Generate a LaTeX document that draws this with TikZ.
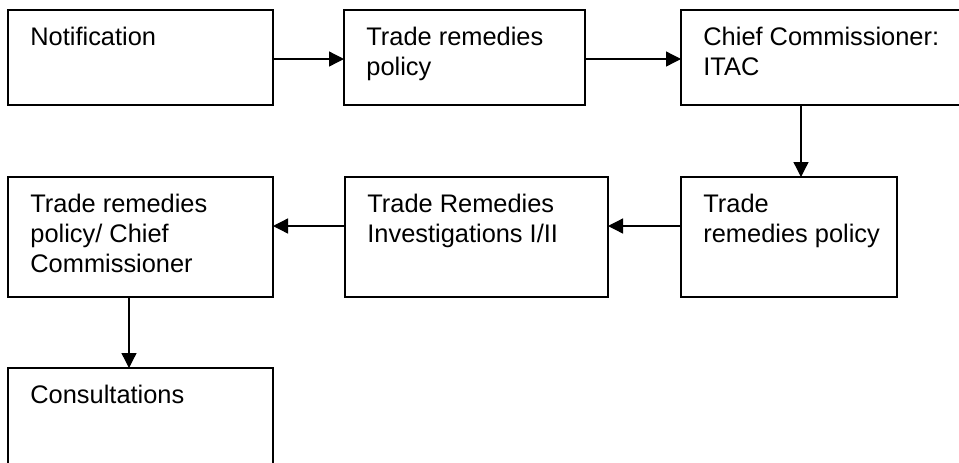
\documentclass[tikz,border=0pt]{standalone}
\usepackage{fontspec}
\setmainfont{Liberation Sans}
\usetikzlibrary{arrows.meta,positioning}

\begin{document}
\begin{tikzpicture}[x=0.5pt,y=-0.5pt,node distance=36pt,
  box/.style={draw,line width=0.65pt,inner sep=0pt,outer sep=0pt,anchor=north west},
  row1/.style={box,minimum height=47.5pt},
  row2/.style={box,minimum height=60pt},
  txt/.style={anchor=north west,align=left,inner sep=0pt,xshift=11pt,yshift=-8.2pt,
    font=\fontsize{12.7pt}{15pt}\selectfont},
  flow/.style={-{Triangle[length=7.5pt,width=7.5pt]},line width=0.65pt}]
\useasboundingbox (0,0) rectangle (959,462);
\clip (0,0) rectangle (959,462);
% top row
\node[row1,minimum width=132.5pt,label={[txt]north west:Notification}] (notif) at (8,10) {};
\node[row1,minimum width=120.5pt,right=35.5pt of notif.north east,anchor=north west,
  label={[txt]north west:{Trade remedies\\policy}}] (policyA) {};
\node[row1,minimum width=160pt,right=48pt of policyA.north east,anchor=north west,
  label={[txt]north west:{Chief Commissioner:\\ITAC}}] (chief) {};
% second row, right to left
\node[row2,minimum width=108pt,below=36pt of chief.south west,anchor=north west,
  label={[txt]north west:{Trade\\remedies policy}}] (policyB) {};
\node[row2,minimum width=131.5pt,left=36.5pt of policyB.north west,anchor=north east,
  label={[txt]north west:{Trade Remedies\\Investigations I/II}}] (invest) {};
\node[row2,minimum width=132.5pt,left=36pt of invest.north west,anchor=north east,
  label={[txt]north west:{Trade remedies\\policy/ Chief\\Commissioner}}] (policyC) {};
% last box
\node[row2,minimum width=132.5pt,below=35.5pt of policyC.south west,anchor=north west,
  label={[txt]north west:Consultations}] (consult) {};
% arrows
\draw[flow] ([yshift=-24.5pt]notif.north east) -- ([yshift=-24.5pt]policyA.north west);
\draw[flow] ([yshift=-24.5pt]policyA.north east) -- ([yshift=-24.5pt]chief.north west);
\draw[flow] ([xshift=60pt]chief.south west) -- ([xshift=60pt]policyB.north west);
\draw[flow] ([yshift=-24.5pt]policyB.north west) -- ([yshift=-24.5pt]invest.north east);
\draw[flow] ([yshift=-24.5pt]invest.north west) -- ([yshift=-24.5pt]policyC.north east);
\draw[flow] ([xshift=60.5pt]policyC.south west) -- ([xshift=60.5pt]consult.north west);
\end{tikzpicture}
\end{document}
